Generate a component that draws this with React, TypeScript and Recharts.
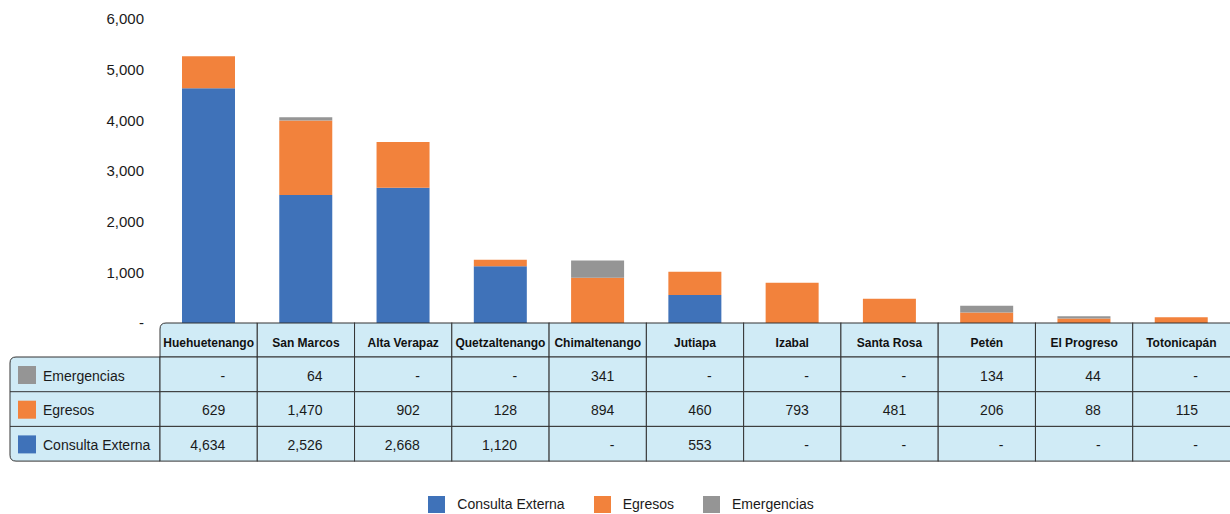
import { Bar, BarChart, Legend, XAxis, YAxis } from 'recharts';

const categories = [
  'Huehuetenango',
  'San Marcos',
  'Alta Verapaz',
  'Quetzaltenango',
  'Chimaltenango',
  'Jutiapa',
  'Izabal',
  'Santa Rosa',
  'Petén',
  'El Progreso',
  'Totonicapán',
];
const consultaExterna = [4634, 2526, 2668, 1120, null, 553, null, null, null, null, null];
const egresos = [629, 1470, 902, 128, 894, 460, 793, 481, 206, 88, 115];
const emergencias = [null, 64, null, null, 341, null, null, null, 134, 44, null];
const yTicks = [0, 1000, 2000, 3000, 4000, 5000, 6000];

const series = [
  { key: 'consulta', name: 'Consulta Externa', color: '#3f72b9', values: consultaExterna },
  { key: 'egresos', name: 'Egresos', color: '#f2823c', values: egresos },
  { key: 'emergencias', name: 'Emergencias', color: '#959595', values: emergencias },
];
// table rows run top to bottom in reverse stacking order
const tableRows = [series[2], series[1], series[0]];

const data = categories.map((name, i) => ({
  name,
  consulta: consultaExterna[i],
  egresos: egresos[i],
  emergencias: emergencias[i],
}));

const W = 1230;
const H = 514;
const Y_W = 160;
const LABEL_X = 10;
const HEADER_H = 34;
const ROW_H = 34.7;
const TABLE_H = 138;
const LEGEND_H = 53;
const FONT = '"Liberation Sans", Arial, Helvetica, sans-serif';
const CELL_FILL = '#d0ebf6';
const BORDER = '#333';

const fmt = (v: number | null) => (v == null || v === 0 ? '-' : v.toLocaleString('en-US'));

function TableColumn(props: any) {
  const { x, y, payload } = props;
  const i = categories.indexOf(payload.value);
  const bw = (W - Y_W) / categories.length;
  const left = x - bw / 2;
  // last column runs off the right edge, like the original
  const cw = i === categories.length - 1 ? bw + 2 : bw;
  const top = y;
  const rowsTop = top + HEADER_H;
  const r = 6;
  return (
    <g>
      {i === 0 && (
        <g>
          <path
            d={`M${left},${rowsTop} H${LABEL_X + r} Q${LABEL_X},${rowsTop} ${LABEL_X},${rowsTop + r} V${rowsTop + ROW_H * 3 - r} Q${LABEL_X},${rowsTop + ROW_H * 3} ${LABEL_X + r},${rowsTop + ROW_H * 3} H${left} Z`}
            fill={CELL_FILL}
            stroke={BORDER}
            strokeWidth={1}
          />
          {tableRows.map((s, ri) => (
            <g key={s.key}>
              {ri > 0 && (
                <line x1={LABEL_X} x2={left} y1={rowsTop + ri * ROW_H} y2={rowsTop + ri * ROW_H} stroke={BORDER} />
              )}
              <rect x={18} y={rowsTop + ri * ROW_H + 9} width={18} height={18} fill={s.color} />
              <text x={43} y={rowsTop + ri * ROW_H + 23.5} fontSize={14} fill="#1a1a1a" fontFamily={FONT}>
                {s.name}
              </text>
            </g>
          ))}
        </g>
      )}
      {i === 0 ? (
        <path
          d={`M${left},${rowsTop} V${top + r} Q${left},${top} ${left + r},${top} H${left + cw} V${rowsTop} Z`}
          fill={CELL_FILL}
          stroke={BORDER}
        />
      ) : (
        <rect x={left} y={top} width={cw} height={HEADER_H} fill={CELL_FILL} stroke={BORDER} />
      )}
      <text
        x={x}
        y={top + 23.5}
        textAnchor="middle"
        fontSize={12}
        fontWeight="bold"
        fill="#111"
        fontFamily={FONT}
      >
        {payload.value}
      </text>
      {tableRows.map((s, ri) => (
        <g key={s.key}>
          <rect x={left} y={rowsTop + ri * ROW_H} width={cw} height={ROW_H} fill={CELL_FILL} stroke={BORDER} />
          <text
            x={left + bw - 32}
            y={rowsTop + ri * ROW_H + 23.5}
            textAnchor="end"
            fontSize={14}
            fill="#1a1a1a"
            fontFamily={FONT}
          >
            {fmt(s.values[i])}
          </text>
        </g>
      ))}
    </g>
  );
}

function LegendRow() {
  return (
    <div
      style={{
        height: LEGEND_H,
        boxSizing: 'border-box',
        display: 'flex',
        justifyContent: 'center',
        alignItems: 'flex-end',
        paddingBottom: 1,
        paddingLeft: 12,
        fontFamily: FONT,
        fontSize: 14,
        color: '#1a1a1a',
      }}
    >
      {series.map((s, i) => (
        <div
          key={s.key}
          style={{ display: 'flex', alignItems: 'center', marginRight: i < series.length - 1 ? 29 : 0 }}
        >
          <span style={{ width: 17, height: 17, background: s.color, marginRight: 12, display: 'inline-block' }} />
          <span style={{ lineHeight: '17px' }}>{s.name}</span>
        </div>
      ))}
    </div>
  );
}

export default function App() {
  return (
    <div style={{ position: 'absolute', left: 0, top: 0, width: W, height: H, background: '#fff', overflow: 'hidden' }}>
      <BarChart width={W} height={H} data={data} margin={{ top: 19, right: 0, left: 0, bottom: 0 }}>
        <XAxis
          dataKey="name"
          interval={0}
          height={TABLE_H}
          axisLine={false}
          tickLine={false}
          tickSize={0}
          tickMargin={0}
          tick={(p: any) => <TableColumn {...p} />}
        />
        <YAxis
          domain={[0, 6000]}
          ticks={yTicks}
          width={Y_W}
          axisLine={false}
          tickLine={false}
          tickSize={0}
          tickMargin={16}
          tickFormatter={(v: number) => (v === 0 ? '-' : v.toLocaleString('en-US'))}
          tick={{ fontSize: 15, fill: '#1a1a1a', fontFamily: FONT }}
        />
        <Legend verticalAlign="bottom" wrapperStyle={{ left: 0, width: W }} content={() => <LegendRow />} />
        {series.map((s) => (
          <Bar
            key={s.key}
            dataKey={s.key}
            name={s.name}
            stackId="a"
            fill={s.color}
            barSize={53}
            isAnimationActive={false}
          />
        ))}
      </BarChart>
    </div>
  );
}
